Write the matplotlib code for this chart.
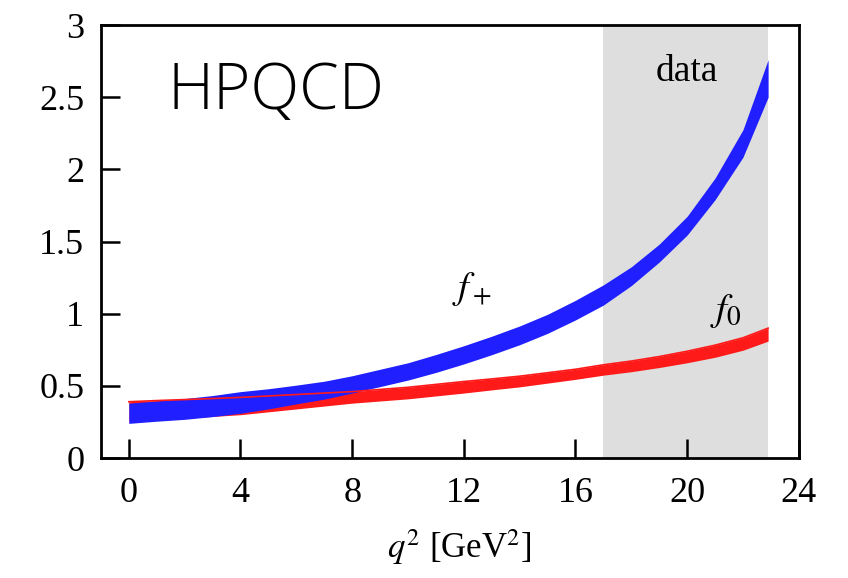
import matplotlib.pyplot as plt

plt.rcParams['font.family'] = ['Liberation Serif', 'DejaVu Serif']
plt.rcParams['mathtext.fontset'] = 'stix'

# q^2 grid [GeV^2] at which the bands were tabulated
q2 = [0, 1, 2, 3, 4, 5, 6, 7, 8, 9, 10, 11, 12, 13, 14, 15, 16, 17, 18, 19, 20, 21, 22, 22.9]

# f_+ band (lower / upper edge)
fplus_lo = [0.24, 0.255, 0.268, 0.287, 0.31, 0.34, 0.375, 0.408, 0.45, 0.495, 0.54, 0.593,
            0.652, 0.716, 0.785, 0.864, 0.957, 1.06, 1.195, 1.358, 1.545, 1.79, 2.085, 2.50]
fplus_hi = [0.38, 0.395, 0.412, 0.433, 0.46, 0.48, 0.505, 0.532, 0.57, 0.615, 0.66, 0.717,
            0.778, 0.844, 0.915, 0.996, 1.093, 1.20, 1.325, 1.482, 1.675, 1.94, 2.275, 2.76]

# f_0 band
fzero_lo = [0.25, 0.262, 0.275, 0.288, 0.30, 0.32, 0.34, 0.36, 0.38, 0.395, 0.41, 0.43,
            0.45, 0.472, 0.493, 0.519, 0.545, 0.574, 0.598, 0.627, 0.66, 0.698, 0.747, 0.81]
fzero_hi = [0.39, 0.398, 0.405, 0.412, 0.42, 0.43, 0.44, 0.45, 0.46, 0.475, 0.49, 0.51,
            0.53, 0.548, 0.567, 0.591, 0.615, 0.646, 0.672, 0.703, 0.74, 0.782, 0.833, 0.90]

# q^2 region covered by experimental data
data_region = (17.0, 22.9)

xticks = [0, 4, 8, 12, 16, 20, 24]
yticks = [0, 0.5, 1, 1.5, 2, 2.5, 3]
ytick_labels = ['0', '0.5', '1', '1.5', '2', '2.5', '3']

fig = plt.figure(figsize=(8.48, 5.78), dpi=100)
ax = fig.add_axes([0.119, 0.2076, 0.823, 0.749])

ax.axvspan(*data_region, color='#dedede', lw=0, zorder=0)

ax.fill_between(q2, fzero_lo, fzero_hi, color='#ff1a1a', lw=0, zorder=2)
ax.fill_between(q2, fplus_lo, fplus_hi, color='#1f1fff', lw=0, zorder=3)
# upper edge of f_0 shows through on top of f_+ at low q^2
ax.plot(q2, fzero_hi, color='#ff1a1a', lw=1.2, zorder=4)

ax.set_xlim(-1, 24)
ax.set_ylim(0, 3)
ax.set_xticks(xticks)
ax.set_yticks(yticks)
ax.set_yticklabels(ytick_labels)

ax.tick_params(direction='in', length=14, width=1.8, labelsize=26,
               top=False, right=False)
ax.tick_params(axis='x', pad=14)
ax.tick_params(axis='y', pad=12)
for s in ax.spines.values():
    s.set_linewidth(2.0)

ax.set_xlabel(r'$q^2$ [GeV$^2$]', fontsize=25)
ax.xaxis.set_label_coords(0.514, -0.16)

ax.text(1.4, 2.42, 'HPQCD', family=['Open Sans', 'DejaVu Sans'], fontweight='light',
        fontsize=46, va='baseline', ha='left')
ax.text(20.0, 2.61, 'data', fontsize=27, va='baseline', ha='center')
ax.text(12.3, 1.17, r'$f_+$', fontsize=28, va='center', ha='center')
ax.text(21.4, 1.02, r'$f_0$', fontsize=28, va='center', ha='center')

fig.savefig('out.png', dpi=100)
